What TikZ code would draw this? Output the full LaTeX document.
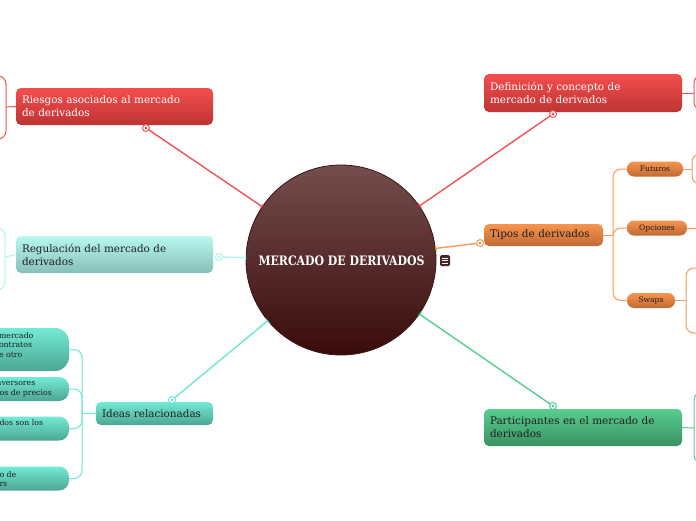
\documentclass[tikz,border=0pt]{standalone}
\usepackage{fontspec}
\setmainfont{DejaVu Serif}
\newfontfamily\titlefont[FakeStretch=0.84]{DejaVu Serif}
\usetikzlibrary{arrows.meta}
\definecolor{redA}{HTML}{F44D4D}
\definecolor{redB}{HTML}{BE3434}
\definecolor{redL}{HTML}{F25353}
\definecolor{cyA}{HTML}{B9F7F1}
\definecolor{cyB}{HTML}{86BFB7}
\definecolor{cyL}{HTML}{B0F5EF}
\definecolor{tlA}{HTML}{72EAD5}
\definecolor{tlB}{HTML}{4DA693}
\definecolor{tlL}{HTML}{6FE7D2}
\definecolor{orA}{HTML}{F7944F}
\definecolor{orB}{HTML}{C16A33}
\definecolor{orL}{HTML}{F79B5C}
\definecolor{grA}{HTML}{58CE90}
\definecolor{grB}{HTML}{3B9161}
\definecolor{grL}{HTML}{57CF91}
\definecolor{ciA}{HTML}{744D4D}
\definecolor{ciB}{HTML}{3A0B0B}
\definecolor{ciD}{HTML}{3A1212}
\definecolor{txt}{HTML}{1E1E1E}
\begin{document}
\begin{tikzpicture}[x=1pt,y=-1pt,
  every node/.style={inner sep=0pt, outer sep=0pt},
  topic/.style={rounded corners=5pt, align=left, inner xsep=6pt, font=\fontsize{10.4}{13}\selectfont},
  pill/.style={rounded corners=7pt, align=center, font=\fontsize{7.6}{8}\selectfont, text=txt, minimum height=15pt, top color=orA, bottom color=orB},
  leaf/.style={top color=tlA, bottom color=tlB},
  leaftext/.style={anchor=west, align=left, text=txt, font=\fontsize{7.8}{9.8}\selectfont},
  conn/.style={draw=#1, line width=1.4pt},
  brk/.style={draw=#1, line width=1pt, rounded corners=8pt},
  dot/.style={circle, draw=#1, fill=white, line width=1pt, minimum size=7pt},
  endbar/.style={-{Bar[width=6pt,line width=1.2pt]}},
]
\clip (0,0) rectangle (696,520);
\fill[white] (0,0) rectangle (696,520);

% central topic
\node[circle, minimum size=190pt, top color=ciA, bottom color=ciB, draw=ciD, line width=0.8pt] (c) at (341,260) {};
\node[text=white, font=\titlefont\bfseries\fontsize{13}{13}\selectfont] (title) at (341.5,261) {MERCADO DE DERIVADOS};
\node[fill=ciD!70!ciA, rounded corners=1.5pt, minimum width=10pt, minimum height=11pt] (menu) at (445,260.5) {};
\foreach \dy in {-2.5,0,2.5}
  \draw[white, line width=0.7pt] ([xshift=-2.8pt,yshift=\dy pt]menu.center) -- ([xshift=2.8pt,yshift=\dy pt]menu.center);

% main topics
\node[topic, text=white, top color=redA, bottom color=redB, minimum width=197pt, minimum height=37pt, text width=185pt] (ries) at (114.5,106.5) {Riesgos asociados al mercado\\de derivados};
\node[topic, text=white, top color=redA, bottom color=redB, minimum width=198pt, minimum height=38pt, text width=186pt] (def) at (583,93) {Definición y concepto de\\mercado de derivados};
\node[topic, text=txt, top color=cyA, bottom color=cyB, minimum width=197pt, minimum height=37pt, text width=185pt] (reg) at (114.5,254.5) {Regulación del mercado de\\derivados};
\node[topic, text=txt, top color=tlA, bottom color=tlB, minimum width=117pt, minimum height=23pt, text width=105pt] (ideas) at (154.5,413.5) {Ideas relacionadas};
\node[topic, text=txt, top color=orA, bottom color=orB, minimum width=119pt, minimum height=22pt, text width=107pt] (tipos) at (543.5,235) {Tipos de derivados};
\node[topic, text=txt, top color=grA, bottom color=grB, minimum width=198pt, minimum height=37pt, text width=186pt] (part) at (583,427.5) {Participantes en el mercado de\\derivados};

% connector dots
\node[dot=redL] (d1) at (146,128) {};
\node[dot=redL] (d2) at (553,114) {};
\node[dot=cyL] (d3) at (219,257) {};
\node[dot=tlL] (d4) at (172,400) {};
\node[dot=orL] (d5) at (480,243) {};
\node[dot=grL] (d6) at (553,406) {};
\fill[redL] (d1) circle (1.6); \fill[redL] (d2) circle (1.6);
\fill[cyL] (d3) circle (1.6); \fill[tlL] (d4) circle (1.6);
\fill[orL] (d5) circle (1.6); \fill[grL] (d6) circle (1.6);

\draw[conn=redL, endbar] (d1) -- (c);
\draw[conn=redL, endbar] (d2) -- (c);
\draw[conn=cyL, endbar] (d3) -- (c);
\draw[conn=tlL, endbar] (d4) -- (c);
\draw[conn=orL, endbar] (d5) -- (c);
\draw[conn=grL, endbar] (d6) -- (c);

% tipos subtopics
\node[pill, minimum width=56pt] (fut) at (655,169) {Futuros};
\node[pill, minimum width=60pt] (opc) at (657,228) {Opciones};
\node[pill, minimum width=48pt] (swp) at (651,300.5) {Swaps};
\coordinate (jt) at (613,235);
\draw[orL, line width=1pt] (tipos.east) -- (jt);
\draw[brk=orL] (jt) |- (fut.west);
\draw[brk=orL] (jt) |- (opc.west);
\draw[brk=orL] (jt) |- (swp.west);
\draw[orL, line width=1pt] (fut.east) -- (692,169) coordinate (jf);
\draw[brk=orL] (704,154) -| (jf) |- (704,184);
\draw[orL, line width=1pt] (opc.east) -- (700,228) coordinate (jo);
\draw[orL, line width=1pt] (swp.east) -- (686,300.5) coordinate (js);
\draw[brk=orL] (700,268) -| (js) |- (700,333);

% right side cut-off branches
\draw[redL, line width=1pt] (def.east) -- (694,93) coordinate (jd);
\draw[brk=redL] (706,75) -| (jd) |- (706,110);
\draw[grL, line width=1pt] (part.east) -- (694,428) coordinate (jp);
\draw[brk=grL] (706,392) -| (jp) |- (706,463);

% left side cut-off branches
\draw[redL, line width=1pt] (ries.west) -- (6,107) coordinate (jr);
\draw[brk=redL] (-8,76) -| (jr) |- (-8,139);
\draw[cyL, line width=1pt] (reg.west) -- (5,257) coordinate (jg);
\draw[brk=cyL] (-8,228) -| (jg) |- (-8,290);

% ideas subtopics
\node[leaf, rounded corners=14pt, minimum width=110pt, minimum height=43pt] (k1) at (14,349.5) {};
\node[leaf, rounded corners=10pt, minimum width=110pt, minimum height=24pt] (k2) at (14,389) {};
\node[leaf, rounded corners=10pt, minimum width=110pt, minimum height=24pt] (k3) at (14,428.5) {};
\node[leaf, rounded corners=10pt, minimum width=110pt, minimum height=24pt] (k4) at (14,478.5) {};
\node[leaftext] (t1) at (-1,345) {mercado\\ontratos\\e otro};
\node[leaftext] (t2) at (-3.5,389.5) {nversores\\tos de precios};
\node[leaftext] (t3) at (-0.5,423) {dos son los};
\node[leaftext] (t4) at (-0.5,479) {o de\\rs};
\coordinate (ji) at (82,413.5);
\draw[tlL, line width=1pt] (ideas.west) -- (ji);
\draw[brk=tlL] (ji) |- (k1.east);
\draw[brk=tlL] (ji) |- (k2.east);
\draw[brk=tlL] (ji) |- (k3.east);
\draw[brk=tlL] (ji) |- (k4.east);
\end{tikzpicture}
\end{document}
